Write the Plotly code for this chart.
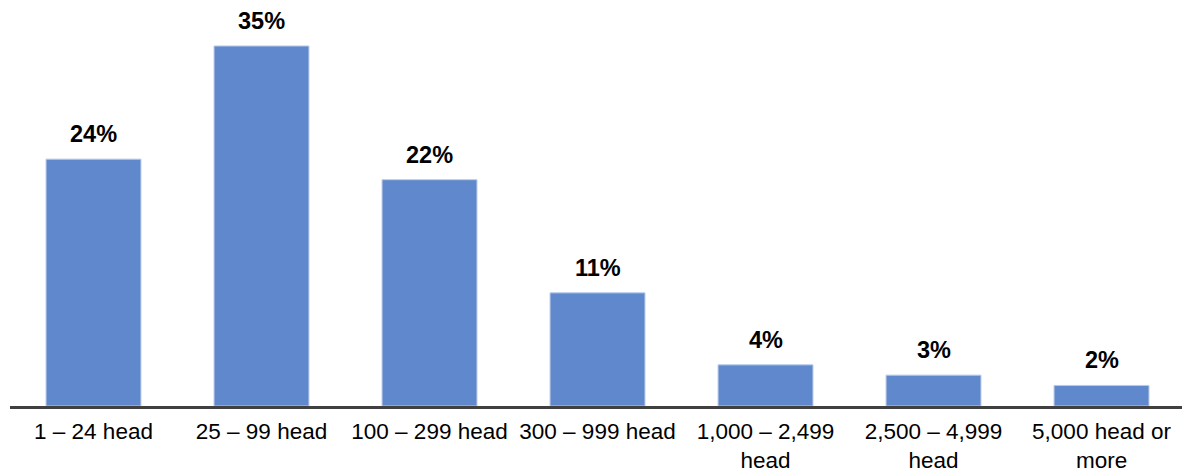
import plotly.graph_objects as go

# Share of operations by herd size
categories = [
    "1 – 24 head",
    "25 – 99 head",
    "100 – 299 head",
    "300 – 999 head",
    "1,000 – 2,499<br>head",
    "2,500 – 4,999<br>head",
    "5,000 head or<br>more",
]
shares = [24, 35, 22, 11, 4, 3, 2]
share_labels = [f"{v}%" for v in shares]

positions = list(range(len(categories)))

fig = go.Figure(
    go.Bar(
        x=positions,
        y=shares,
        width=0.565,
        marker=dict(color="#6088CC", line=dict(color="#B9CBEA", width=1)),
        hoverinfo="skip",
    )
)

for xi, v, lab in zip(positions, shares, share_labels):
    fig.add_annotation(
        x=xi, y=v, text=f"<b>{lab}</b>", showarrow=False,
        yanchor="bottom", yshift=10,
        font=dict(family="Liberation Sans, Arial", size=23.5, color="#000000"),
    )

fig.update_layout(
    width=1182, height=476,
    margin=dict(l=10, r=0, t=0, b=70),
    plot_bgcolor="white", paper_bgcolor="white",
    showlegend=False,
    font=dict(family="Liberation Sans, Arial", size=23.5, color="#000000"),
    xaxis=dict(
        range=[-0.497, 6.479],
        tickmode="array", tickvals=positions, ticktext=categories,
        showline=True, linecolor="#404040", linewidth=3,
        showgrid=False, zeroline=False, ticks="",
        tickfont=dict(size=22.5, color="#000000"),
        ticklabelstandoff=3,
        automargin=False,
    ),
    yaxis=dict(
        range=[0, 39.47], visible=False, showgrid=False, zeroline=False,
        automargin=False,
    ),
)

fig.write_html("out.html")
